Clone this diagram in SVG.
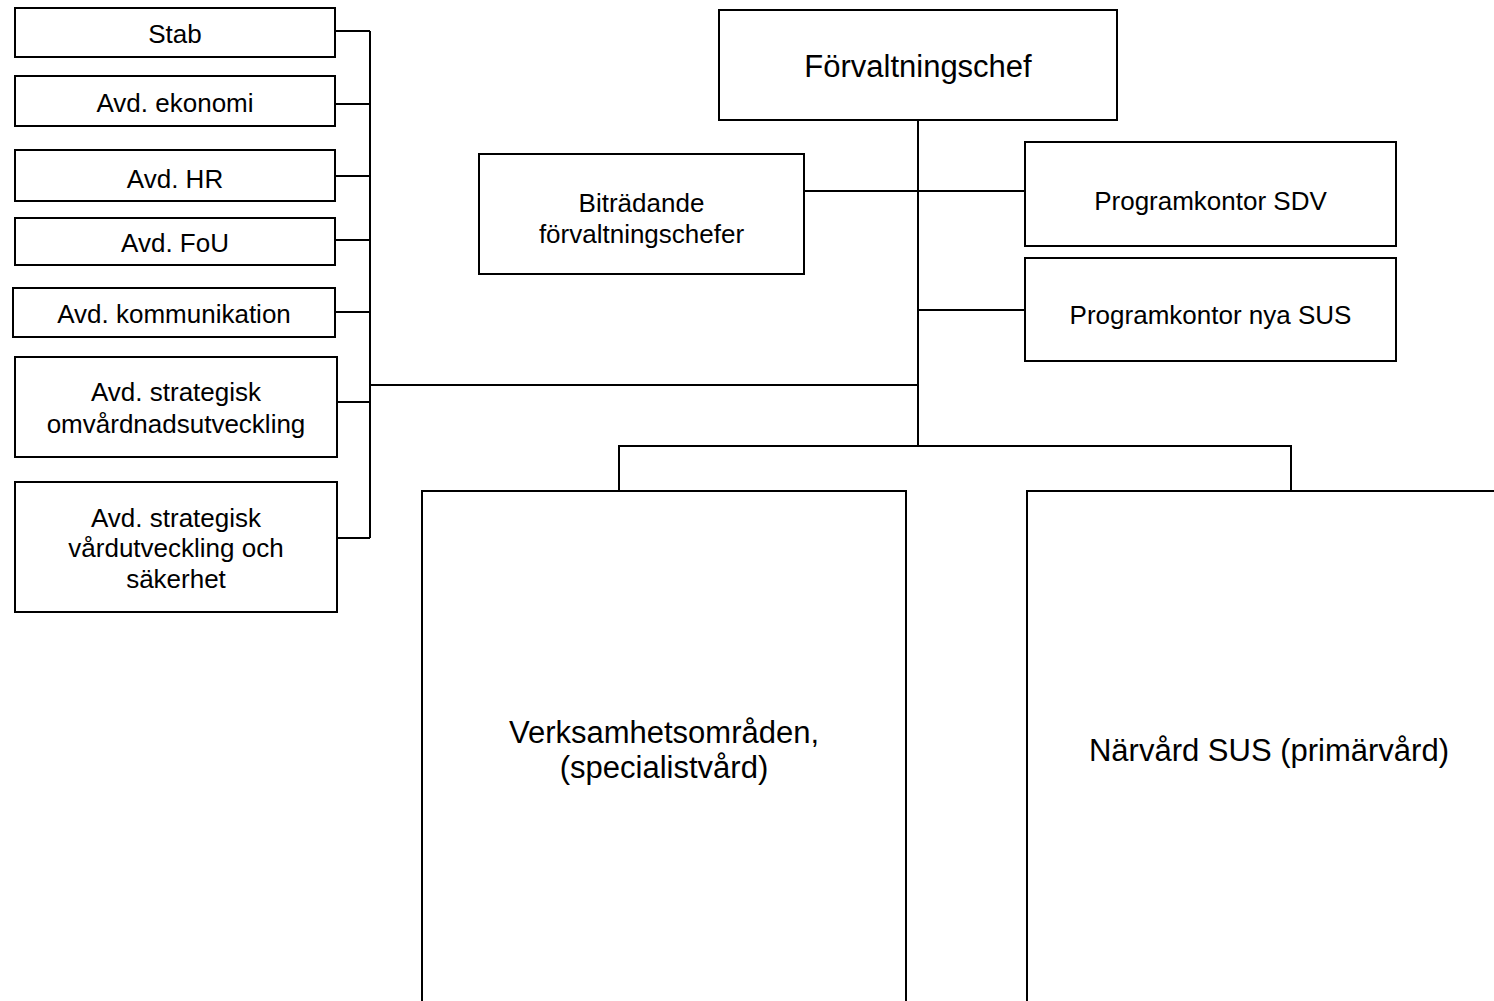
<svg xmlns="http://www.w3.org/2000/svg" width="1494" height="1001" viewBox="0 0 1494 1001">
<style>
.box{fill:#fff;stroke:#000;stroke-width:2}
.ln{fill:none;stroke:#000;stroke-width:2}
text{font-family:"Liberation Sans",Arial,sans-serif;fill:#000;text-anchor:middle}
.s{font-size:26px}
.l{font-size:31px}
</style>
<rect width="1494" height="1001" fill="#fff"/>
<g id="connectors">
<path class="ln" d="M370 31V538"/>
<path class="ln" d="M335 31H370M335 104H370M335 176H370M335 240H370M335 312H370M337 402H370M337 538H370"/>
<path class="ln" d="M370 385H918"/>
<path class="ln" d="M918 120V446"/>
<path class="ln" d="M804 191H1025M918 310H1025"/>
<path class="ln" d="M619 491V446H1291V491"/>
</g>
<g id="n-forvaltningschef"><rect class="box" x="719" y="10" width="398" height="110"/><text class="l" x="918" y="77">Förvaltningschef</text></g>
<g id="n-bitradande"><rect class="box" x="479" y="154" width="325" height="120"/><text class="s" x="641.5" y="212">Biträdande</text><text class="s" x="641.5" y="243">förvaltningschefer</text></g>
<g id="n-sdv"><rect class="box" x="1025" y="142" width="371" height="104"/><text class="s" x="1210.5" y="210">Programkontor SDV</text></g>
<g id="n-nyasus"><rect class="box" x="1025" y="258" width="371" height="103"/><text class="s" x="1210.5" y="324">Programkontor nya SUS</text></g>
<g id="n-stab"><rect class="box" x="15" y="8" width="320" height="49"/><text class="s" x="175" y="43">Stab</text></g>
<g id="n-ekonomi"><rect class="box" x="15" y="76" width="320" height="50"/><text class="s" x="175" y="112">Avd. ekonomi</text></g>
<g id="n-hr"><rect class="box" x="15" y="150" width="320" height="51"/><text class="s" x="175" y="188">Avd. HR</text></g>
<g id="n-fou"><rect class="box" x="15" y="218" width="320" height="47"/><text class="s" x="175" y="252">Avd. FoU</text></g>
<g id="n-kommunikation"><rect class="box" x="13" y="288" width="322" height="49"/><text class="s" x="174" y="323">Avd. kommunikation</text></g>
<g id="n-omvardnad"><rect class="box" x="15" y="357" width="322" height="100"/><text class="s" x="176" y="401">Avd. strategisk</text><text class="s" x="176" y="433">omvårdnadsutveckling</text></g>
<g id="n-vardutveckling"><rect class="box" x="15" y="482" width="322" height="130"/><text class="s" x="176" y="527">Avd. strategisk</text><text class="s" x="176" y="557">vårdutveckling och</text><text class="s" x="176" y="588">säkerhet</text></g>
<g id="n-verksamhetsomraden"><rect class="box" x="422" y="491" width="484" height="530"/><text class="l" x="664" y="743">Verksamhetsområden,</text><text class="l" x="664" y="778">(specialistvård)</text></g>
<g id="n-narvard"><rect class="box" x="1027" y="491" width="500" height="530"/><text class="l" x="1269" y="761">Närvård SUS (primärvård)</text></g>
</svg>
